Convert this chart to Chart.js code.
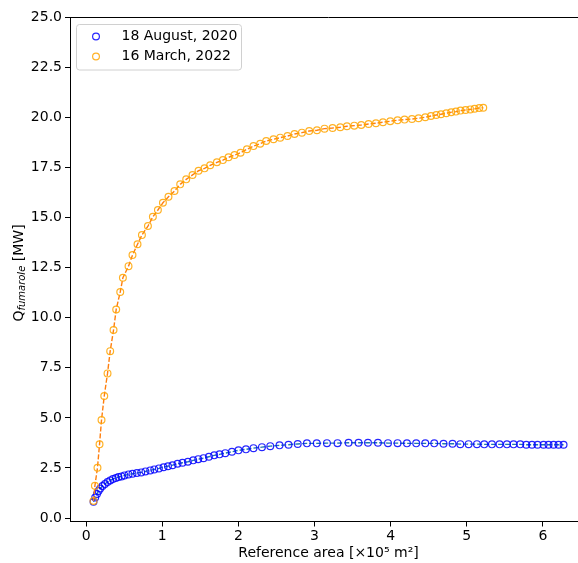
<!DOCTYPE html>
<html>
<head>
<meta charset="utf-8">
<script src="https://cdn.jsdelivr.net/npm/chart.js@4"></script>
<style>
  html, body { margin: 0; padding: 0; overflow: hidden; background: #fff; }
  #wrap { width: 600px; height: 563px; }
</style>
</head>
<body>
<div id="wrap"><canvas id="chart"></canvas></div>
<script>
// data
const augX = [0.096,0.118,0.141,0.162,0.184,0.214,0.246,0.280,0.315,0.351,0.390,0.424,0.464,0.503,0.556,0.608,0.666,0.723,0.779,0.841,0.894,0.955,1.016,1.074,1.134,1.200,1.265,1.336,1.406,1.472,1.541,1.612,1.682,1.752,1.827,1.915,2.001,2.099,2.198,2.309,2.418,2.540,2.658,2.779,2.900,3.029,3.163,3.302,3.447,3.578,3.702,3.833,3.965,4.091,4.214,4.336,4.455,4.573,4.695,4.813,4.915,5.024,5.134,5.230,5.331,5.431,5.528,5.615,5.703,5.782,5.857,5.930,6.009,6.075,6.141,6.206,6.272];
const augY = [0.81,1.03,1.20,1.35,1.48,1.60,1.70,1.80,1.88,1.95,2.00,2.05,2.08,2.13,2.18,2.21,2.25,2.28,2.33,2.38,2.43,2.48,2.54,2.59,2.64,2.71,2.76,2.81,2.88,2.94,2.99,3.06,3.13,3.18,3.24,3.31,3.38,3.43,3.49,3.54,3.59,3.63,3.66,3.70,3.73,3.73,3.74,3.74,3.76,3.76,3.76,3.76,3.74,3.74,3.73,3.73,3.73,3.73,3.71,3.71,3.69,3.69,3.69,3.68,3.68,3.68,3.68,3.68,3.68,3.66,3.66,3.66,3.66,3.66,3.66,3.66,3.66];
const marX = [0.096,0.114,0.148,0.175,0.201,0.237,0.280,0.315,0.359,0.394,0.447,0.482,0.556,0.608,0.674,0.732,0.811,0.876,0.942,1.008,1.081,1.160,1.235,1.314,1.397,1.476,1.555,1.629,1.717,1.796,1.870,1.949,2.028,2.112,2.198,2.286,2.365,2.461,2.549,2.645,2.737,2.834,2.930,3.032,3.131,3.237,3.338,3.426,3.522,3.614,3.710,3.807,3.899,3.995,4.091,4.183,4.280,4.367,4.455,4.530,4.599,4.661,4.731,4.796,4.858,4.918,4.984,5.046,5.103,5.164,5.217];
const marY = [0.85,1.61,2.51,3.68,4.89,6.09,7.22,8.33,9.38,10.41,11.28,11.99,12.57,13.12,13.66,14.12,14.57,15.03,15.37,15.73,16.03,16.32,16.65,16.90,17.12,17.33,17.45,17.60,17.75,17.86,18.00,18.11,18.23,18.40,18.56,18.68,18.81,18.90,18.98,19.06,19.16,19.23,19.31,19.35,19.43,19.46,19.50,19.55,19.58,19.61,19.66,19.70,19.75,19.80,19.85,19.88,19.91,19.95,20.00,20.06,20.11,20.15,20.20,20.25,20.28,20.33,20.36,20.39,20.42,20.46,20.47];
const seriesNames = ['18 August, 2020', '16 March, 2022'];
const xTicks = [0, 1, 2, 3, 4, 5, 6];
const yTicks = [0, 2.5, 5, 7.5, 10, 12.5, 15, 17.5, 20, 22.5, 25];

const markerCols = ['rgba(0,0,255,0.85)', 'rgba(255,165,0,0.85)'];
const lineCols = ['#1f77b4', '#ff7f0e'];

Chart.defaults.font.family = 'DejaVu Sans';
Chart.defaults.font.size = 14;
Chart.defaults.color = '#000';

function pts(xs, ys) {
    return xs.map((x, i) => ({ x: x, y: ys[i] }));
}

// legend + axis titles drawn by hand (subscript in the y title)
const extras = {
    id: 'extras',
    afterDraw(chart) {
        const ctx = chart.ctx;
        const a = chart.chartArea;
        ctx.save();
        // legend box
        ctx.fillStyle = 'rgba(255,255,255,0.8)';
        ctx.strokeStyle = '#d0d0d0';
        ctx.lineWidth = 1;
        ctx.beginPath();
        ctx.roundRect(76.5, 24.5, 165, 45.5, 3);
        ctx.fill();
        ctx.stroke();
        ctx.font = '14px "DejaVu Sans"';
        ctx.textBaseline = 'middle';
        ctx.textAlign = 'left';
        const rows = [36.5, 56.5];
        seriesNames.forEach((name, i) => {
            ctx.strokeStyle = markerCols[i];
            ctx.lineWidth = 1.2;
            ctx.beginPath();
            ctx.arc(96, rows[i], 3.4, 0, Math.PI * 2);
            ctx.stroke();
            ctx.fillStyle = '#000';
            ctx.fillText(name, 121.5, rows[i]);
        });
        // x title
        ctx.textAlign = 'center';
        ctx.fillText('Reference area [×10⁵ m²]', (a.left + a.right) / 2, 553);
        // y title
        ctx.translate(19, 273);
        ctx.rotate(-Math.PI / 2);
        const big = '14px "DejaVu Sans"';
        const small = 'italic 10px "DejaVu Sans"';
        ctx.font = big;
        const w1 = ctx.measureText('Q').width;
        const w3 = ctx.measureText(' [MW]').width;
        ctx.font = small;
        const w2 = ctx.measureText('fumarole').width;
        let x0 = -(w1 + w2 + w3) / 2;
        ctx.textAlign = 'left';
        ctx.font = big;
        ctx.fillText('Q', x0, 0);
        ctx.font = small;
        ctx.fillText('fumarole', x0 + w1, 3);
        ctx.font = big;
        ctx.fillText(' [MW]', x0 + w1 + w2, 0);
        ctx.restore();
    }
};

const ctx = document.getElementById('chart');
new Chart(ctx, {
    type: 'scatter',
    data: {
        datasets: [{
            label: seriesNames[0],
            data: pts(augX, augY),
            showLine: true,
            borderColor: lineCols[0],
            borderWidth: 1.4,
            borderDash: [5, 2],
            pointRadius: 3.4,
            pointBorderWidth: 1.2,
            pointBorderColor: markerCols[0],
            pointBackgroundColor: 'rgba(0,0,0,0)',
            order: 2
        }, {
            label: seriesNames[1],
            data: pts(marX, marY),
            showLine: true,
            borderColor: lineCols[1],
            borderWidth: 1.4,
            borderDash: [5, 2],
            pointRadius: 3.4,
            pointBorderWidth: 1.2,
            pointBorderColor: markerCols[1],
            pointBackgroundColor: 'rgba(0,0,0,0)',
            order: 1
        }]
    },
    options: {
        responsive: true,
        maintainAspectRatio: false,
        animation: false,
        layout: { padding: { top: 17, right: 13, left: 0, bottom: 0 } },
        plugins: {
            legend: { display: false },
            tooltip: { enabled: false }
        },
        scales: {
            x: {
                type: 'linear',
                min: -0.213,
                max: 6.58,
                afterBuildTicks: s => { s.ticks = xTicks.map(v => ({ value: v })); },
                afterFit: s => { s.height = 41.5; },
                ticks: { padding: 1, callback: v => String(v) },
                grid: { drawOnChartArea: false, tickLength: 5, tickColor: '#000' },
                border: { color: '#000', width: 1 }
            },
            y: {
                type: 'linear',
                min: -0.17,
                max: 25,
                afterBuildTicks: s => { s.ticks = yTicks.map(v => ({ value: v })); },
                afterFit: s => { s.width = 70; },
                ticks: { padding: 3, callback: v => v.toFixed(1) },
                grid: { drawOnChartArea: false, tickLength: 5, tickColor: '#000' },
                border: { color: '#000', width: 1 }
            }
        }
    },
    plugins: [extras, {
        id: 'frame',
        afterDatasetsDraw(chart) {
            const c = chart.ctx, a = chart.chartArea;
            c.save();
            c.strokeStyle = '#000';
            c.lineWidth = 1;
            c.beginPath();
            c.moveTo(a.left, a.top + 0.5);
            c.lineTo(a.right, a.top + 0.5);
            c.moveTo(a.right - 0.5, a.top);
            c.lineTo(a.right - 0.5, a.bottom);
            c.stroke();
            c.restore();
        }
    }]
});
</script>
</body>
</html>
